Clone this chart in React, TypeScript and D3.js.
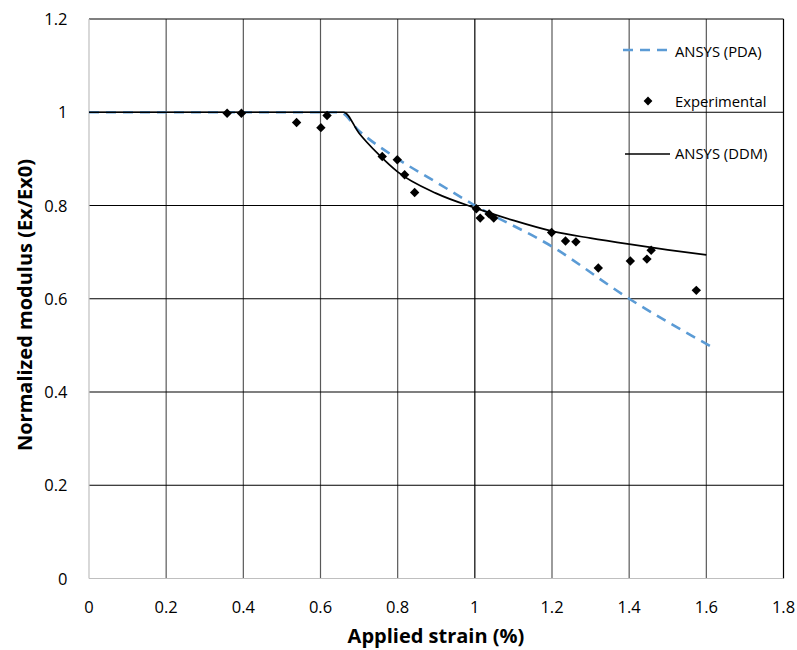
import React from "react";
import * as d3 from "d3";

const xTicks = [0, 0.2, 0.4, 0.6, 0.8, 1, 1.2, 1.4, 1.6, 1.8];
const yTicks = [0, 0.2, 0.4, 0.6, 0.8, 1, 1.2];

const pdaX = [0, 0.65, 0.7, 0.8, 0.9, 1.0, 1.2, 1.4, 1.62];
const pdaY = [1.0, 1.0, 0.96, 0.9, 0.85, 0.8, 0.712, 0.6, 0.494];

const ddmX = [0, 0.66, 0.7, 0.75, 0.8, 0.9, 1.0, 1.1, 1.2, 1.3, 1.4, 1.5, 1.6];
const ddmY = [1.0, 1.0, 0.955, 0.91, 0.872, 0.826, 0.795, 0.768, 0.745, 0.73, 0.717, 0.705, 0.694];

const expX = [0.358, 0.395, 0.538, 0.601, 0.617, 0.76, 0.799, 0.818, 0.844, 1.004, 1.014, 1.037, 1.049, 1.199, 1.235, 1.262, 1.32, 1.403, 1.446, 1.457, 1.574];
const expY = [0.998, 0.998, 0.978, 0.967, 0.993, 0.905, 0.898, 0.866, 0.828, 0.793, 0.773, 0.782, 0.773, 0.742, 0.724, 0.722, 0.666, 0.681, 0.685, 0.704, 0.618];

const W = 797;
const H = 650;
const left = 89;
const right = 783.5;
const top = 19;
const bottom = 578.5;
const font = "'Open Sans', sans-serif";

export default function App() {
  const x = d3.scaleLinear().domain([0, 1.8]).range([left, right]);
  const y = d3.scaleLinear().domain([0, 1.2]).range([bottom, top]);

  const pda = d3
    .line<number>()
    .x((d, i) => x(pdaX[i]))
    .y((d) => y(d))
    .curve(d3.curveMonotoneX)(pdaY);
  const ddm = d3
    .line<number>()
    .x((d, i) => x(ddmX[i]))
    .y((d) => y(d))
    .curve(d3.curveMonotoneX)(ddmY);

  const diamond = (cx: number, cy: number, r: number) =>
    `M${cx},${cy - r}L${cx + r},${cy}L${cx},${cy + r}L${cx - r},${cy}Z`;

  return (
    <svg width={W} height={H} style={{ position: "absolute", left: 0, top: 0, background: "#fff" }}>
      <rect x={0} y={0} width={W} height={H} fill="#fff" />
      {/* vertical gridlines */}
      {xTicks.slice(1).map((t) => (
        <line
          key={"vx" + t}
          x1={x(t)}
          x2={x(t)}
          y1={top}
          y2={bottom}
          stroke={t === 1.8 || t === 1 ? "#000" : "#595959"}
          strokeWidth={1.2}
        />
      ))}
      {/* horizontal gridlines */}
      {yTicks.slice(1).map((t) => (
        <line key={"hy" + t} x1={left} x2={right} y1={y(t)} y2={y(t)} stroke="#000" strokeWidth={1.1} />
      ))}
      {/* axes */}
      <line x1={left} x2={left} y1={top} y2={bottom} stroke="#bfbfbf" strokeWidth={1.2} />
      <line x1={left} x2={right} y1={bottom} y2={bottom} stroke="#bfbfbf" strokeWidth={1.2} />

      {/* series */}
      <path d={pda || ""} fill="none" stroke="#5B9BD5" strokeWidth={2.6} strokeDasharray="10,7" />
      <path d={ddm || ""} fill="none" stroke="#000" strokeWidth={1.7} />
      {expX.map((v, i) => (
        <path key={"e" + i} d={diamond(x(v), y(expY[i]), 4.7)} fill="#000" />
      ))}

      {/* tick labels */}
      {xTicks.map((t) => (
        <text key={"xl" + t} x={x(t)} y={612.5} textAnchor="middle" fontFamily={font} fontSize={16.5} fill="#000">
          {String(t)}
        </text>
      ))}
      {yTicks.map((t) => (
        <text key={"yl" + t} x={67.5} y={y(t) + 6} textAnchor="end" fontFamily={font} fontSize={16.5} fill="#000">
          {String(t)}
        </text>
      ))}

      {/* axis titles */}
      <text x={436} y={643} textAnchor="middle" fontFamily={font} fontSize={20} fontWeight="bold" fill="#000">
        Applied strain (%)
      </text>
      <text
        transform={`translate(32,${305}) rotate(-90)`}
        textAnchor="middle"
        fontFamily={font}
        fontSize={20}
        fontWeight="bold"
        fill="#000"
      >
        Normalized modulus (Ex/Ex0)
      </text>

      {/* legend */}
      <line x1={623} x2={669} y1={50} y2={50} stroke="#5B9BD5" strokeWidth={2.6} strokeDasharray="10,7" />
      <text x={675} y={56.5} fontFamily={font} fontSize={14.8} fill="#000">
        ANSYS (PDA)
      </text>
      <path d={diamond(648, 101, 4.4)} fill="#000" />
      <text x={675} y={107} fontFamily={font} fontSize={14.8} fill="#000">
        Experimental
      </text>
      <line x1={625} x2={670} y1={154} y2={154} stroke="#000" strokeWidth={1.7} />
      <text x={675} y={159} fontFamily={font} fontSize={14.8} fill="#000">
        ANSYS (DDM)
      </text>
    </svg>
  );
}
